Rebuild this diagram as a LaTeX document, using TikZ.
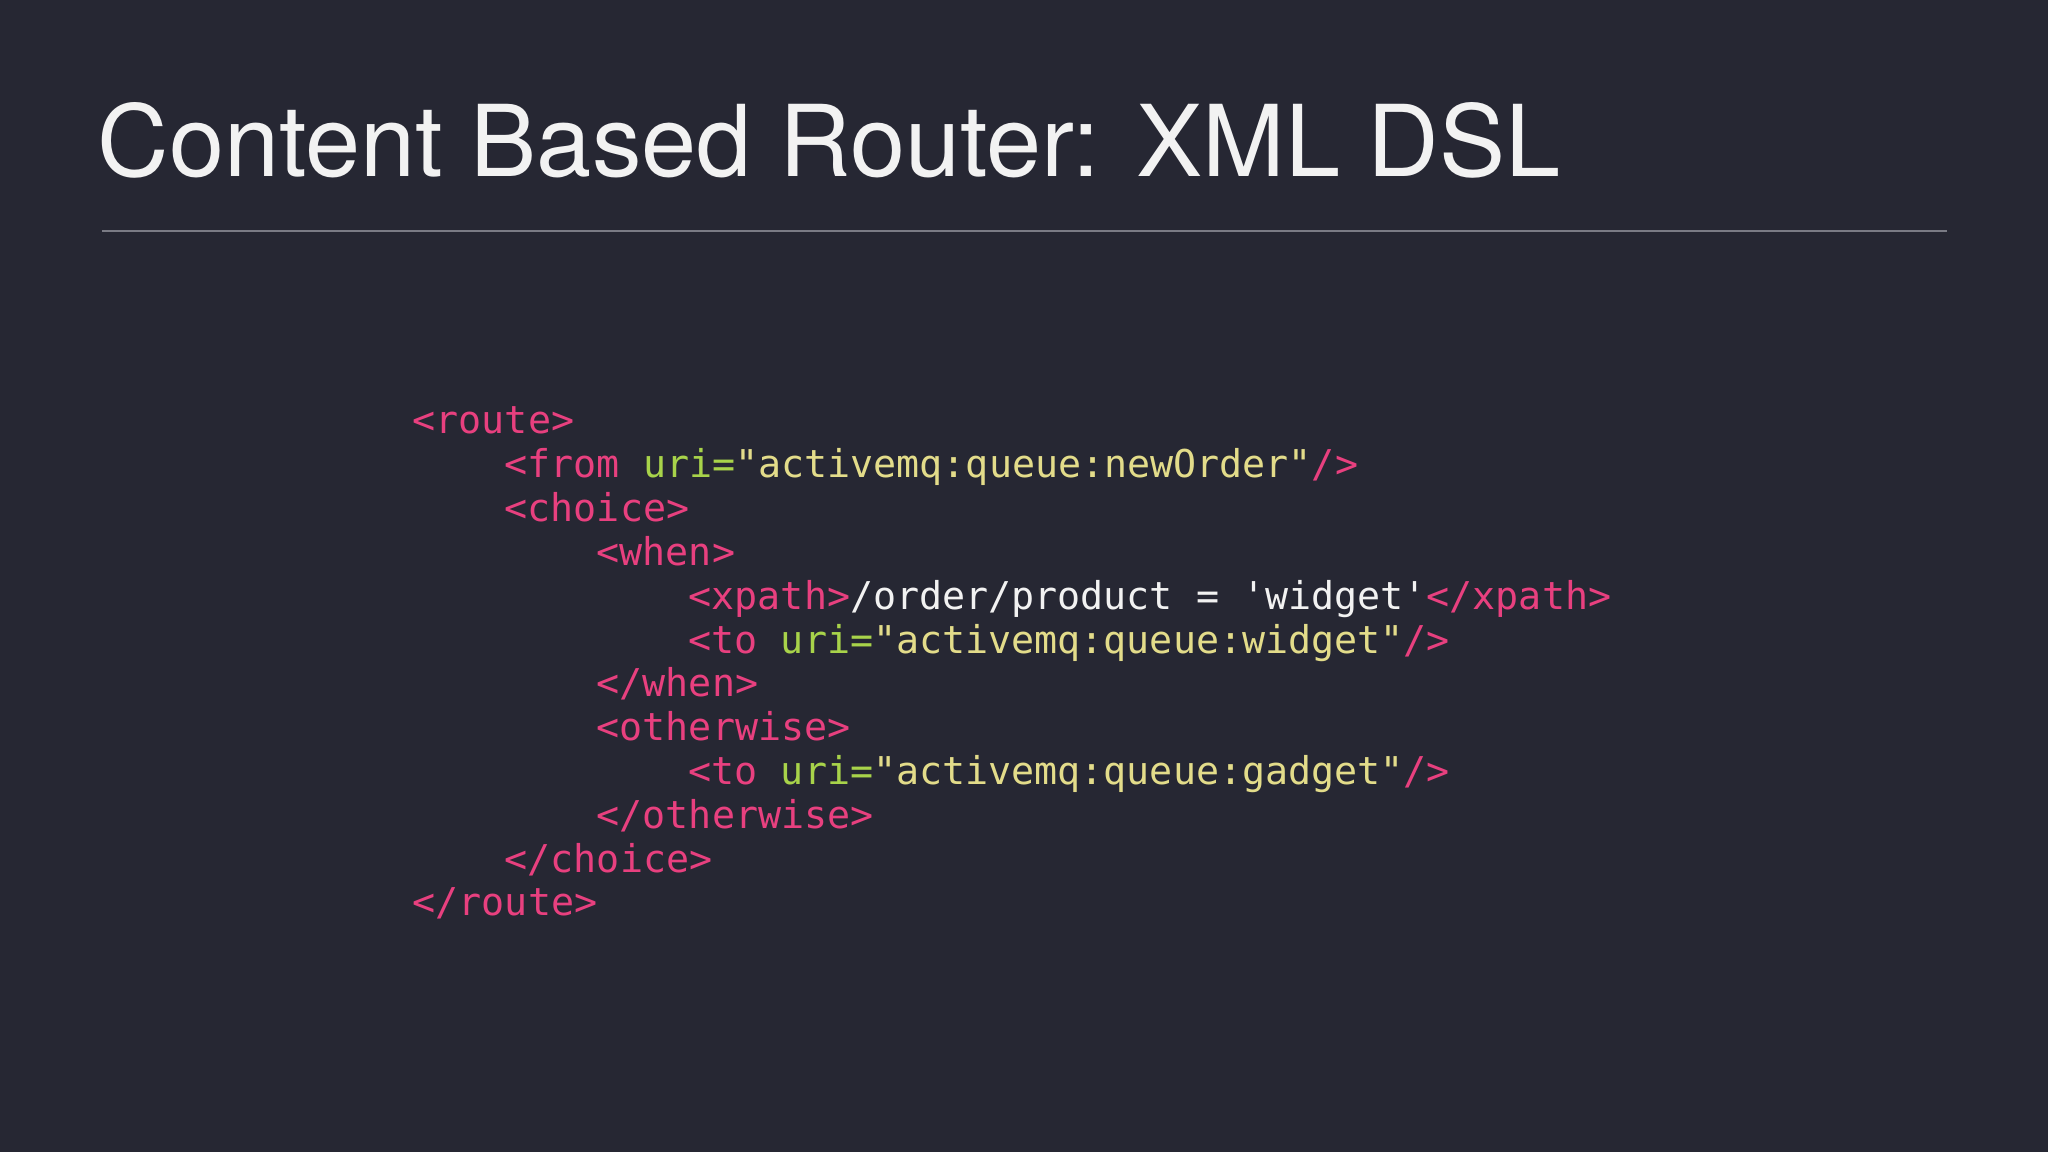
\documentclass[tikz,border=0pt]{standalone}
\usepackage{fontspec}
\newfontfamily\code{DejaVu Sans Mono}
\newfontfamily\ttl{TeX Gyre Heros}
\definecolor{bg}{HTML}{262733}
\definecolor{pk}{HTML}{E8407F}
\definecolor{gr}{HTML}{A8D34A}
\definecolor{yl}{HTML}{E3DC8A}
\definecolor{wt}{HTML}{F2F2F2}
\definecolor{rl}{HTML}{7A7B85}
\newcommand{\tg}[1]{\textcolor{pk}{#1}}
\newcommand{\at}[1]{\textcolor{gr}{#1}}
\newcommand{\sv}[1]{\textcolor{yl}{#1}}
\tikzset{codeline/.style={anchor=base west,inner sep=0pt,font=\code\fontsize{10.9pt}{12pt}\selectfont,text=wt}}
\begin{document}
\begin{tikzpicture}
\fill[bg] (0,0) rectangle (20.48,-11.52);
\useasboundingbox (0,0) rectangle (20.48,-11.52);
\node[anchor=base west,inner sep=0pt,text=wt,font=\ttl\fontsize{28.2pt}{32pt}\selectfont] (title) at (0.97,-1.77) {Content Based Router: XML DSL};
\coordinate (r1) at (1.02,-2.31);
\coordinate (r2) at (19.47,-2.31);
\draw[rl,line width=0.8pt] (r1) -- (r2);
\def\lx{4.12}
\def\dy{0.438}
\def\ty{-4.34}
\node[codeline] (l1) at (\lx,\ty) {\tg{<route>}};
\node[codeline] (l2) at (\lx+0.92,\ty-\dy) {\tg{<from }\at{uri=}\sv{"activemq:queue:newOrder"}\tg{/>}};
\node[codeline] (l3) at (\lx+0.92,\ty-2*\dy) {\tg{<choice>}};
\node[codeline] (l4) at (\lx+1.84,\ty-3*\dy) {\tg{<when>}};
\node[codeline] (l5) at (\lx+2.76,\ty-4*\dy) {\tg{<xpath>}/order/product = 'widget'\tg{</xpath>}};
\node[codeline] (l6) at (\lx+2.76,\ty-5*\dy) {\tg{<to }\at{uri=}\sv{"activemq:queue:widget"}\tg{/>}};
\node[codeline] (l7) at (\lx+1.84,\ty-6*\dy) {\tg{</when>}};
\node[codeline] (l8) at (\lx+1.84,\ty-7*\dy) {\tg{<otherwise>}};
\node[codeline] (l9) at (\lx+2.76,\ty-8*\dy) {\tg{<to }\at{uri=}\sv{"activemq:queue:gadget"}\tg{/>}};
\node[codeline] (l10) at (\lx+1.84,\ty-9*\dy) {\tg{</otherwise>}};
\node[codeline] (l11) at (\lx+0.92,\ty-10*\dy) {\tg{</choice>}};
\node[codeline] (l12) at (\lx,\ty-11*\dy) {\tg{</route>}};
\end{tikzpicture}
\end{document}
